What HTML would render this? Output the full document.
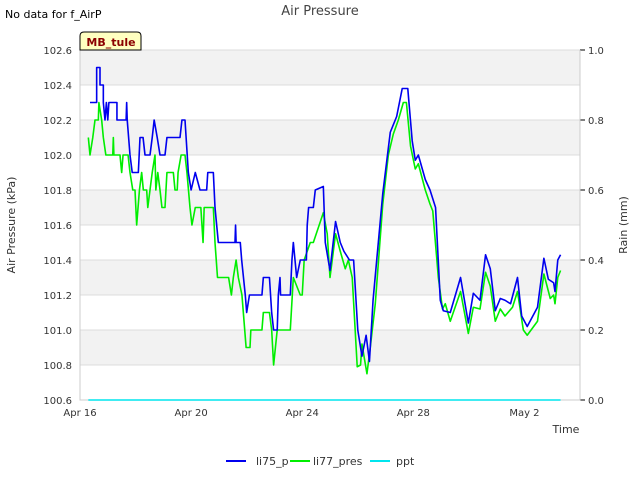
<!DOCTYPE html>
<html><head><meta charset="utf-8"><style>
body{margin:0;background:#fff;font-family:"Liberation Sans","DejaVu Sans",sans-serif}
svg text{font-family:"DejaVu Sans","Liberation Sans",sans-serif}
</style></head><body>
<svg id="c" width="640" height="480" viewBox="0 0 640 480" xmlns="http://www.w3.org/2000/svg">
<text x="5" y="18" font-size="11" fill="#000">No data for f_AirP</text>
<text x="320" y="15" font-size="13" fill="#444" text-anchor="middle">Air Pressure</text>
<g id="plot"></g>
<text x="15" y="225" font-size="11" fill="#333" text-anchor="middle" transform="rotate(-90 15 225)">Air Pressure (kPa)</text>
<text x="627" y="225" font-size="11" fill="#333" text-anchor="middle" transform="rotate(-90 627 225)">Rain (mm)</text>
<text x="566" y="433" font-size="11" fill="#333" text-anchor="middle">Time</text>
<g>
<path d="M80,50 L80,36 Q80,32 84,32 L137,32 Q141,32 141,36 L141,50 Z" fill="#ffffc0" stroke="#000" stroke-width="1"/>
<text x="111" y="46" font-size="11" font-weight="bold" fill="#8b0000" text-anchor="middle">MB_tule</text>
</g>
<g>
<line x1="226" y1="461" x2="246" y2="461" stroke="#0000ee" stroke-width="2"/>
<text x="256" y="465" font-size="11" fill="#333">li75_p</text>
<line x1="290" y1="461" x2="310" y2="461" stroke="#00ee00" stroke-width="2"/>
<text x="313" y="465" font-size="11" fill="#333">li77_pres</text>
<line x1="370" y1="461" x2="390" y2="461" stroke="#00e5ee" stroke-width="2"/>
<text x="396" y="465" font-size="11" fill="#333">ppt</text>
</g>
</svg>
<script>
const xTickLabels=["Apr 16","Apr 20","Apr 24","Apr 28","May 2"];
const xTickDays=[0,4,8,12,16];
const yTicks=[100.6,100.8,101.0,101.2,101.4,101.6,101.8,102.0,102.2,102.4,102.6];
const y2Ticks=[0.0,0.2,0.4,0.6,0.8,1.0];
const li75Days=[0.36,0.6,0.6,0.72,0.72,0.84,0.84,0.9,0.95,1.0,1.04,1.08,1.33,1.33,1.66,1.68,1.7,1.8,1.88,2.1,2.16,2.27,2.34,2.52,2.6,2.67,2.78,2.88,3.06,3.13,3.6,3.67,3.78,3.9,4.0,4.15,4.32,4.56,4.6,4.8,4.86,4.98,5.58,5.6,5.62,5.77,5.82,5.95,6.0,6.1,6.55,6.6,6.82,6.9,6.97,7.1,7.14,7.2,7.22,7.57,7.63,7.68,7.8,7.93,8.15,8.18,8.23,8.4,8.47,8.76,8.83,9.0,9.2,9.37,9.5,9.7,9.85,10.0,10.15,10.3,10.42,10.55,10.9,11.17,11.4,11.6,11.8,11.96,12.07,12.18,12.43,12.6,12.8,12.97,13.08,13.33,13.7,13.98,14.16,14.4,14.6,14.77,14.95,15.13,15.3,15.5,15.75,15.9,16.1,16.47,16.7,16.86,17.05,17.1,17.2,17.3];
const li75Vals=[102.3,102.3,102.5,102.5,102.4,102.4,102.3,102.2,102.3,102.2,102.3,102.3,102.3,102.2,102.2,102.3,102.2,102.0,101.9,101.9,102.1,102.1,102.0,102.0,102.1,102.2,102.1,102.0,102.0,102.1,102.1,102.2,102.2,101.9,101.8,101.9,101.8,101.8,101.9,101.9,101.7,101.5,101.5,101.6,101.5,101.5,101.4,101.2,101.1,101.2,101.2,101.3,101.3,101.1,101.0,101.0,101.2,101.3,101.2,101.2,101.4,101.5,101.3,101.4,101.4,101.6,101.7,101.7,101.8,101.82,101.5,101.34,101.62,101.5,101.45,101.4,101.4,101.0,100.85,100.97,100.82,101.17,101.78,102.13,102.22,102.38,102.38,102.08,101.97,102.0,101.86,101.8,101.7,101.17,101.11,101.1,101.3,101.04,101.21,101.17,101.43,101.35,101.11,101.18,101.17,101.15,101.3,101.08,101.02,101.13,101.41,101.29,101.27,101.22,101.4,101.43];
const li77Days=[0.3,0.36,0.46,0.54,0.66,0.68,0.78,0.84,0.93,1.18,1.2,1.22,1.44,1.5,1.55,1.6,1.73,1.8,1.9,1.98,2.04,2.14,2.22,2.28,2.4,2.44,2.52,2.6,2.7,2.73,2.8,2.88,2.95,3.06,3.13,3.36,3.42,3.5,3.53,3.64,3.78,3.85,3.96,4.03,4.15,4.35,4.43,4.47,4.56,4.8,4.86,4.95,5.35,5.45,5.52,5.62,5.7,5.83,5.88,5.98,6.12,6.15,6.55,6.6,6.82,6.9,6.97,7.1,7.57,7.68,7.93,8.0,8.07,8.29,8.4,8.76,8.9,9.0,9.2,9.37,9.55,9.66,9.8,9.98,10.1,10.15,10.33,10.45,10.63,10.9,11.1,11.28,11.46,11.64,11.75,11.9,12.07,12.18,12.43,12.6,12.7,12.9,13.05,13.15,13.33,13.7,13.98,14.16,14.4,14.6,14.77,14.95,15.13,15.3,15.57,15.75,15.96,16.1,16.47,16.7,16.93,17.05,17.1,17.2,17.3];
const li77Vals=[102.1,102.0,102.1,102.2,102.2,102.3,102.2,102.1,102.0,102.0,102.1,102.0,102.0,101.9,102.0,102.0,102.0,101.9,101.8,101.8,101.6,101.8,101.9,101.8,101.8,101.7,101.8,101.9,102.0,101.8,101.9,101.8,101.7,101.7,101.9,101.9,101.8,101.8,101.9,102.0,102.0,101.9,101.7,101.6,101.7,101.7,101.5,101.7,101.7,101.7,101.5,101.3,101.3,101.2,101.3,101.4,101.3,101.2,101.1,100.9,100.9,101.0,101.0,101.1,101.1,101.0,100.8,101.0,101.0,101.3,101.2,101.2,101.4,101.5,101.5,101.67,101.55,101.3,101.55,101.45,101.35,101.4,101.3,100.79,100.8,100.92,100.75,100.9,101.15,101.72,102.0,102.12,102.2,102.3,102.3,102.05,101.92,101.95,101.8,101.72,101.68,101.3,101.12,101.15,101.05,101.22,100.98,101.13,101.12,101.33,101.25,101.05,101.12,101.08,101.13,101.22,101.0,100.97,101.05,101.32,101.18,101.2,101.15,101.3,101.34];
const pptDays=[0.3,17.3];
const pptVals=[0,0];

const X0=80,X1=580,Y0=50,Y1=400;
const xs=d=>X0+d*(X1-X0)/18;
const ys=v=>Y1-(v-100.6)*(Y1-Y0)/2.0;
const y2s=v=>Y1-v*(Y1-Y0)/1.0;
const NS="http://www.w3.org/2000/svg";
const g=document.getElementById('plot');
function mk(t,a){const e=document.createElementNS(NS,t);for(const k in a)e.setAttribute(k,a[k]);g.appendChild(e);return e;}
for(let i=0;i<yTicks.length-1;i++){
  if(i%2===1){const r=mk('rect',{x:X0,y:ys(yTicks[i+1]),width:X1-X0,height:ys(yTicks[i])-ys(yTicks[i+1]),fill:'#f2f2f2'});
  
  }
}
yTicks.forEach(v=>{
  const l=mk('line',{x1:X0,x2:X1,y1:ys(v),y2:ys(v),stroke:'#dcdcdc','stroke-width':1});
  
  
  const t=mk('text',{x:X0-8,y:ys(v)+4,'font-size':10,fill:'#333','text-anchor':'end'});
  
  
  t.textContent=v.toFixed(1);
});
y2Ticks.forEach(v=>{
  const l=mk('line',{x1:X1,x2:X1+5,y1:y2s(v),y2:y2s(v),stroke:'#000'});
  
  
  const t=mk('text',{x:X1+8,y:y2s(v)+4,'font-size':10,fill:'#333'});
  
  
  t.textContent=v.toFixed(1);
});
const ax=mk('path',{d:`M${X0},${Y0}V${Y1}H${X1}V${Y0}`,fill:'none',stroke:'#ccc'});


xTickDays.forEach((d,i)=>{
  const t=mk('text',{x:xs(d),y:416,'font-size':10,fill:'#333','text-anchor':'middle'});
  
  
  t.textContent=xTickLabels[i];
});
function line(days,vals,sc,color,name){
  const p=mk('polyline',{points:days.map((d,i)=>xs(d)+','+sc(vals[i])).join(' '),fill:'none',stroke:color,'stroke-width':1.6,'stroke-linejoin':'round'});
  
  
}
line(pptDays,pptVals,y2s,'#00e5ee','ppt-line');
line(li77Days,li77Vals,ys,'#00ee00','li77-pres-line');
line(li75Days,li75Vals,ys,'#0000ee','li75-p-line');
</script>
</body></html>
